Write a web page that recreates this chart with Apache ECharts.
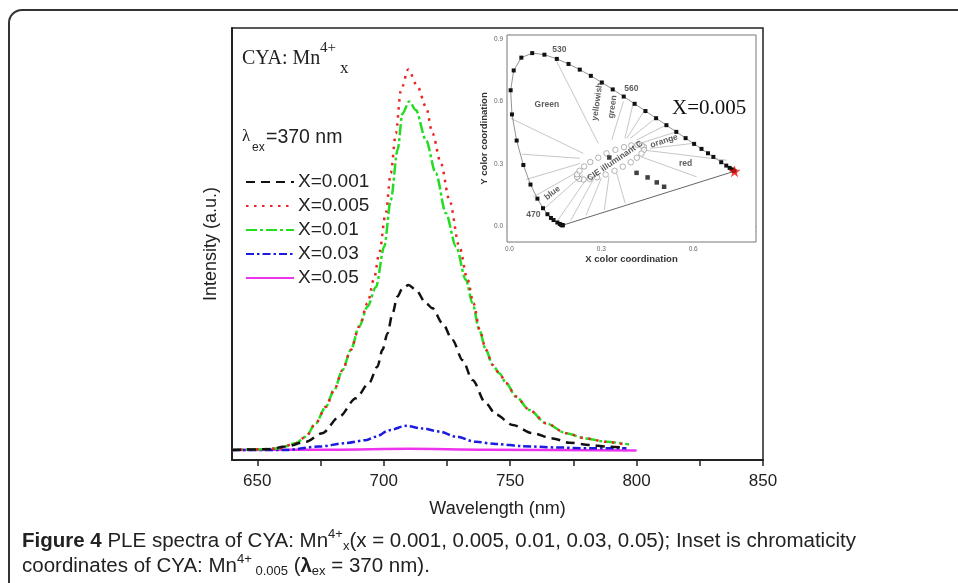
<!DOCTYPE html>
<html>
<head>
<meta charset="utf-8">
<script src="https://cdn.jsdelivr.net/npm/echarts@6.0.0/dist/echarts.min.js"></script>
<style>
  html, body { margin: 0; padding: 0; background: #fff; }
  #main { width: 958px; height: 583px; }
</style>
</head>
<body>
<div id="main"></div>
<script>
// PLE spectra (intensity in arbitrary units, 0-100 scale)
var wl001 = [640, 654.6, 661.2, 669.2, 675.7, 682.4, 689, 694.2, 697.5, 699.5, 701.5, 703.5, 705.4, 707.4, 709.8, 712.7, 716.7, 719.3, 723.3, 727.2, 731.2, 735.1, 740.4, 744.4, 751, 758.9, 766.8, 773.4, 781.4, 788, 795];
var int001 = [2.3, 2.5, 3.1, 4.2, 6.2, 10.0, 14.3, 17.8, 21.6, 25.5, 29.3, 34.0, 37.8, 39.7, 40.5, 39.4, 36.3, 35.1, 31.6, 27.8, 23.1, 18.5, 13.1, 10.5, 8.1, 6.2, 5.0, 4.0, 3.5, 3.1, 2.9];

var wl005 = [640, 652, 658.6, 665.2, 669.2, 673.1, 677.1, 680.4, 683.7, 687, 690.3, 693.6, 696.2, 698.2, 700.8, 702.8, 704.8, 706.8, 709.7, 713.4, 716.7, 719.3, 722.6, 726, 729.9, 733.2, 735.5, 738, 740.4, 743.1, 745.7, 748.4, 752.3, 757.6, 764.2, 772.1, 780, 788, 796];
var int005 = [2.3, 2.5, 2.7, 3.9, 5.4, 8.5, 12.3, 16.2, 20.8, 25.5, 30.9, 36.3, 42.0, 47.8, 57.1, 66.4, 75.6, 85.6, 90.4, 86.4, 81.8, 75.6, 68.7, 60.2, 49.4, 41.7, 36.3, 30.1, 25.5, 22.0, 20.1, 17.8, 14.7, 11.6, 8.5, 6.2, 5.0, 4.2, 3.5];

var wl01 = [640, 652, 658.6, 665.2, 669.2, 673.1, 677.1, 680.4, 683.7, 687, 690.3, 693.6, 696.9, 700.2, 702.8, 705.5, 707.4, 710.1, 712.7, 716.7, 720.6, 724.6, 728.6, 732.5, 735.1, 737.8, 740.4, 743.1, 745.7, 748.4, 752.3, 757.6, 764.2, 772.1, 780, 788, 797];
var int01 = [2.3, 2.5, 2.7, 3.9, 5.4, 8.5, 12.3, 16.2, 20.8, 25.5, 30.9, 35.5, 40.0, 49.4, 60.2, 71.8, 80.2, 83.0, 81.0, 74.1, 66.4, 57.1, 49.4, 41.7, 36.3, 30.1, 25.5, 22.0, 20.1, 17.8, 14.7, 11.6, 8.5, 6.2, 5.0, 4.2, 3.6];

var wl03 = [640, 661, 674.4, 685, 692.9, 696.9, 702.2, 708.8, 715.4, 722, 728.6, 736.5, 744.4, 755, 768.2, 781.4, 796];
var int03 = [2.3, 2.3, 3.1, 3.9, 4.6, 5.4, 6.9, 7.9, 7.3, 6.6, 5.4, 4.2, 3.7, 3.2, 2.9, 2.7, 2.7];

var wl05 = [640, 680, 710, 740, 800];
var int05 = [2.3, 2.4, 2.6, 2.4, 2.2];

var seriesNames = ['X=0.001', 'X=0.005', 'X=0.01', 'X=0.03', 'X=0.05'];
var xLabelTicks = [650, 700, 750, 800, 850];
var xMinorTicks = [650, 675, 700, 725, 750, 775, 800, 825, 850];

// inset: CIE 1931 spectral locus (x, y) and marks
var locusX = [0.1741, 0.1733, 0.1714, 0.1689, 0.1644, 0.1566, 0.1440, 0.1355, 0.1241, 0.1096, 0.0913, 0.0687, 0.0454, 0.0235, 0.0082, 0.0039, 0.0139, 0.0389, 0.0743, 0.1142, 0.1547, 0.1929, 0.2296, 0.2658, 0.3016, 0.3373, 0.3731, 0.4087, 0.4441, 0.4788, 0.5125, 0.5448, 0.5752, 0.6029, 0.6270, 0.6482, 0.6658, 0.6915, 0.7079, 0.7190, 0.7260, 0.7300, 0.7334, 0.7347];
var locusY = [0.0050, 0.0048, 0.0051, 0.0069, 0.0109, 0.0177, 0.0297, 0.0399, 0.0578, 0.0868, 0.1327, 0.2007, 0.2950, 0.4127, 0.5384, 0.6548, 0.7502, 0.8120, 0.8338, 0.8262, 0.8059, 0.7816, 0.7543, 0.7243, 0.6923, 0.6589, 0.6245, 0.5896, 0.5547, 0.5202, 0.4866, 0.4544, 0.4242, 0.3965, 0.3725, 0.3514, 0.3340, 0.3083, 0.2920, 0.2809, 0.2740, 0.2700, 0.2666, 0.2653];

var ellipseX = [0.439, 0.439, 0.431, 0.416, 0.396, 0.370, 0.343, 0.314, 0.286, 0.262, 0.242, 0.228, 0.221, 0.221, 0.229, 0.244, 0.264, 0.290, 0.317, 0.346, 0.374, 0.398, 0.418, 0.432];
var ellipseY = [0.381, 0.368, 0.350, 0.330, 0.308, 0.287, 0.267, 0.249, 0.236, 0.228, 0.225, 0.228, 0.237, 0.250, 0.267, 0.288, 0.309, 0.330, 0.351, 0.368, 0.381, 0.389, 0.392, 0.389];

var extraX = [0.326, 0.415, 0.451, 0.481, 0.505];
var extraY = [0.331, 0.257, 0.235, 0.211, 0.190];

var sampleXY = [0.735, 0.265];

// colour-region boundary lines [x1, y1, x2, y2]
var boundaries = [
  [0.004, 0.52, 0.241, 0.351],
  [0.040, 0.347, 0.230, 0.327],
  [0.054, 0.225, 0.230, 0.302],
  [0.078, 0.141, 0.230, 0.268],
  [0.110, 0.080, 0.240, 0.250],
  [0.150, 0.012, 0.255, 0.235],
  [0.200, 0.028, 0.275, 0.228],
  [0.250, 0.052, 0.300, 0.232],
  [0.310, 0.080, 0.325, 0.240],
  [0.378, 0.110, 0.350, 0.255],
  [0.149, 0.809, 0.290, 0.399],
  [0.372, 0.600, 0.334, 0.415],
  [0.404, 0.592, 0.377, 0.423],
  [0.442, 0.560, 0.383, 0.423],
  [0.477, 0.520, 0.394, 0.423],
  [0.511, 0.487, 0.415, 0.415],
  [0.546, 0.455, 0.426, 0.399],
  [0.600, 0.399, 0.459, 0.375],
  [0.709, 0.318, 0.437, 0.367],
  [0.430, 0.334, 0.611, 0.238]
];

var insetNotes = [
  { text: '530', x: 0.163, y: 0.852, rot: 0 },
  { text: '560', x: 0.398, y: 0.662, rot: 0 },
  { text: '470', x: 0.078, y: 0.056, rot: 0 },
  { text: 'Green', x: 0.122, y: 0.584, rot: 0 },
  { text: 'yellowish', x: 0.287, y: 0.600, rot: 82 },
  { text: 'green', x: 0.337, y: 0.575, rot: 82 },
  { text: 'CIE illuminant C', x: 0.345, y: 0.315, rot: 34 },
  { text: 'orange', x: 0.505, y: 0.410, rot: 18 },
  { text: 'red', x: 0.575, y: 0.300, rot: 0 },
  { text: 'blue', x: 0.140, y: 0.160, rot: 38 }
];

function zip(a, b) {
  var out = [];
  for (var i = 0; i < a.length; i++) out.push([a[i], b[i]]);
  return out;
}

var myChart = echarts.init(document.getElementById('main'));

var mainStyles = [
  { color: '#111111', type: [9, 6] },
  { color: '#ee2222', type: [2.5, 5.5] },
  { color: '#22dd22', type: [11, 3, 3, 3] },
  { color: '#1c1ce0', type: [8, 3, 2.5, 3] },
  { color: '#ee33ee', type: 'solid' }
];
var mainData = [zip(wl001, int001), zip(wl005, int005), zip(wl01, int01), zip(wl03, int03), zip(wl05, int05)];

var series = [];
for (var i = 0; i < 5; i++) {
  series.push({
    name: seriesNames[i],
    type: 'line',
    xAxisIndex: 0,
    yAxisIndex: 0,
    data: mainData[i],
    showSymbol: false,
    symbol: 'none',
    smooth: 0.3,
    smoothMonotone: 'x',
    color: mainStyles[i].color,
    lineStyle: { width: 2.5, color: mainStyles[i].color, type: mainStyles[i].type, cap: 'butt' },
    z: 5 - i
  });
}

var boundaryData = boundaries.map(function (b) {
  return { coords: [[b[0], b[1]], [b[2], b[3]]] };
});

series.push({
  type: 'lines',
  coordinateSystem: 'cartesian2d',
  xAxisIndex: 1,
  yAxisIndex: 1,
  data: boundaryData,
  silent: true,
  lineStyle: { color: '#b8b8b8', width: 0.8, opacity: 1 },
  z: 6
});
series.push({
  type: 'line',
  xAxisIndex: 1,
  yAxisIndex: 1,
  data: [[locusX[0], locusY[0]], sampleXY],
  symbol: 'none',
  lineStyle: { color: '#666', width: 1 },
  silent: true,
  z: 6
});
series.push({
  type: 'line',
  xAxisIndex: 1,
  yAxisIndex: 1,
  data: zip(locusX, locusY),
  symbol: 'rect',
  symbolSize: 4,
  showSymbol: true,
  itemStyle: { color: '#111' },
  lineStyle: { color: '#777', width: 0.8 },
  silent: true,
  z: 7
});
series.push({
  type: 'scatter',
  xAxisIndex: 1,
  yAxisIndex: 1,
  data: zip(ellipseX, ellipseY),
  symbol: 'circle',
  symbolSize: 5.5,
  itemStyle: { color: '#fff', borderColor: '#888', borderWidth: 0.8 },
  silent: true,
  z: 8
});
series.push({
  type: 'scatter',
  xAxisIndex: 1,
  yAxisIndex: 1,
  data: zip(extraX, extraY),
  symbol: 'rect',
  symbolSize: 4.5,
  itemStyle: { color: '#111' },
  silent: true,
  z: 8
});
series.push({
  type: 'scatter',
  xAxisIndex: 1,
  yAxisIndex: 1,
  data: [sampleXY],
  symbol: 'path://M50,0 L61,35 L98,35 L68,57 L79,91 L50,70 L21,91 L32,57 L2,35 L39,35 Z',
  symbolSize: 12,
  itemStyle: { color: '#ee1111' },
  silent: true,
  z: 9
});
series.push({
  type: 'scatter',
  xAxisIndex: 1,
  yAxisIndex: 1,
  data: insetNotes.map(function (n) {
    return {
      value: [n.x, n.y],
      label: { show: true, position: 'inside', formatter: n.text, rotate: n.rot }
    };
  }),
  symbolSize: 0,
  label: { show: true, color: '#333', fontSize: 8.5, fontWeight: 'bold', fontFamily: 'Liberation Sans, Arial, sans-serif' },
  silent: true,
  z: 10
});

var option = {
  animation: false,
  backgroundColor: '#ffffff',
  textStyle: { fontFamily: 'Liberation Sans, Arial, sans-serif' },
  grid: [
    { left: 232, top: 28, width: 531, height: 432, show: true, borderColor: '#222', borderWidth: 1.5, backgroundColor: '#fff' },
    { left: 507, top: 35, width: 249, height: 207, show: true, borderColor: '#777', borderWidth: 1, backgroundColor: '#fff', z: 3 }
  ],
  legend: {
    orient: 'vertical',
    left: 245,
    top: 172,
    itemWidth: 48,
    itemHeight: 14,
    itemGap: 4,
    padding: 0,
    data: seriesNames,
    itemStyle: { color: 'rgba(0,0,0,0)', borderWidth: 0, opacity: 0 },
    textStyle: { fontSize: 19, color: '#222', lineHeight: 20, padding: [0, 0, 0, -1] },
    selectedMode: false
  },
  xAxis: [
    {
      type: 'value', gridIndex: 0, min: 640, max: 850,
      name: 'Wavelength (nm)', nameLocation: 'middle', nameGap: 40,
      nameTextStyle: { fontSize: 18, color: '#222' },
      axisLine: { show: true, lineStyle: { color: '#222', width: 2 } },
      axisTick: { show: true, inside: false, length: 6, lineStyle: { color: '#222', width: 1.5 }, customValues: xMinorTicks },
      axisLabel: { fontSize: 17, color: '#222', margin: 13, customValues: xLabelTicks },
      splitLine: { show: false }
    },
    {
      type: 'value', gridIndex: 1, min: -0.008, max: 0.805,
      name: 'X color coordination', nameLocation: 'middle', nameGap: 11,
      nameTextStyle: { fontSize: 9.5, fontWeight: 'bold', color: '#333' },
      axisLine: { show: true, lineStyle: { color: '#777', width: 1 } },
      axisTick: { show: true, inside: true, length: 3, lineStyle: { color: '#777' }, customValues: [0, 0.15, 0.3, 0.45, 0.6, 0.75] },
      axisLabel: { fontSize: 6.5, color: '#666', margin: 4, customValues: [0, 0.3, 0.6], formatter: function (v) { return v.toFixed(1); } },
      splitLine: { show: false }
    }
  ],
  yAxis: [
    {
      type: 'value', gridIndex: 0, min: 0, max: 100,
      name: 'Intensity (a.u.)', nameLocation: 'middle', nameGap: 12,
      nameTextStyle: { fontSize: 18, color: '#222' },
      axisLine: { show: true, lineStyle: { color: '#222', width: 2 } },
      axisTick: { show: false },
      axisLabel: { show: false },
      splitLine: { show: false }
    },
    {
      type: 'value', gridIndex: 1, min: -0.076, max: 0.921,
      name: 'Y color coordination', nameLocation: 'middle', nameGap: 18,
      nameTextStyle: { fontSize: 9.5, fontWeight: 'bold', color: '#333' },
      axisLine: { show: true, lineStyle: { color: '#777', width: 1 } },
      axisTick: { show: true, inside: true, length: 3, lineStyle: { color: '#777' }, customValues: [0, 0.15, 0.3, 0.45, 0.6, 0.75, 0.9] },
      axisLabel: { fontSize: 6.5, color: '#666', margin: 4, customValues: [0, 0.3, 0.6, 0.9], formatter: function (v) { return v.toFixed(1); } },
      splitLine: { show: false }
    }
  ],
  graphic: [
    { type: 'rect', shape: { x: 9, y: 10, width: 1100, height: 1000, r: 13 }, style: { fill: 'none', stroke: '#333', lineWidth: 2 }, z: 100 },
    // main plot annotations
    { type: 'text', x: 242, y: 59, style: { text: 'CYA: Mn', fontSize: 20, fontFamily: 'Liberation Serif, Times New Roman, serif', fill: '#222', verticalAlign: 'middle' }, z: 100 },
    { type: 'text', x: 320, y: 48, style: { text: '4+', fontSize: 15, fontFamily: 'Liberation Serif, Times New Roman, serif', fill: '#222', verticalAlign: 'middle' }, z: 100 },
    { type: 'text', x: 340, y: 69, style: { text: 'x', fontSize: 17, fontFamily: 'Liberation Serif, Times New Roman, serif', fill: '#222', verticalAlign: 'middle' }, z: 100 },
    { type: 'text', x: 242, y: 137, style: { text: 'λ', fontSize: 17, fontFamily: 'Liberation Serif, Times New Roman, serif', fill: '#222', verticalAlign: 'middle' }, z: 100 },
    { type: 'text', x: 252, y: 148, style: { text: 'ex', fontSize: 12, fontFamily: 'Liberation Sans, Arial, sans-serif', fill: '#222', verticalAlign: 'middle' }, z: 100 },
    { type: 'text', x: 266, y: 138, style: { text: '=370 nm', fontSize: 19.5, fontFamily: 'Liberation Sans, Arial, sans-serif', fill: '#222', verticalAlign: 'middle' }, z: 100 },
    // inset annotation
    { type: 'text', x: 672, y: 108, style: { text: 'X=0.005', fontSize: 21, fontFamily: 'Liberation Serif, Times New Roman, serif', fill: '#111', verticalAlign: 'middle' }, z: 100 },
    // caption
    {
      type: 'text', x: 22, y: 541, z: 100,
      style: {
        text: '{b|Figure 4} PLE spectra of CYA: Mn{sup|4+}{sub|x}(x = 0.001, 0.005, 0.01, 0.03, 0.05); Inset is chromaticity',
        fontSize: 20.5, fontFamily: 'Liberation Sans, Arial, sans-serif', fill: '#222', verticalAlign: 'middle',
        rich: {
          b: { fontSize: 20.5, fontWeight: 'bold', fill: '#222' },
          sup: { fontSize: 13, padding: [0, 0, 13, 0], fill: '#222' },
          sub: { fontSize: 13, padding: [11, 0, 0, 0], fill: '#222' }
        }
      }
    },
    {
      type: 'text', x: 22, y: 566, z: 100,
      style: {
        text: 'coordinates of CYA: Mn{sup|4+}{sub| 0.005} ({b|λ}{sub|ex} = 370 nm).',
        fontSize: 20.5, fontFamily: 'Liberation Sans, Arial, sans-serif', fill: '#222', verticalAlign: 'middle',
        rich: {
          b: { fontSize: 20.5, fontWeight: 'bold', fill: '#222' },
          sup: { fontSize: 13, padding: [0, 0, 13, 0], fill: '#222' },
          sub: { fontSize: 13, padding: [11, 0, 0, 0], fill: '#222' }
        }
      }
    }
  ],
  series: series
};

myChart.setOption(option);
</script>
</body>
</html>
